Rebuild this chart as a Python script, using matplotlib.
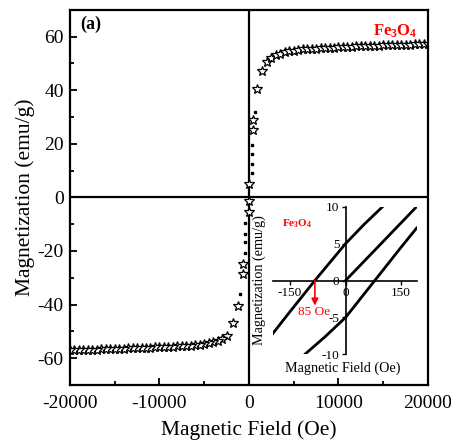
import numpy as np
import matplotlib
matplotlib.use('Agg')
import matplotlib.pyplot as plt

plt.rcParams['font.family'] = ['Liberation Serif', 'DejaVu Serif']
plt.rcParams['mathtext.fontset'] = 'custom'
plt.rcParams['mathtext.rm'] = 'Liberation Serif'
plt.rcParams['mathtext.bf'] = 'Liberation Serif:bold'
plt.rcParams['axes.unicode_minus'] = False

# main loop, star markers (Oe, emu/g)
h_sat_pos = np.arange(2000, 20001, 500)
m_sat_pos = [50.6, 52.0, 53.0, 53.6, 54.1, 54.5, 54.8, 55.0, 55.2, 55.3,
             55.4, 55.5, 55.6, 55.7, 55.8, 55.9, 56.0, 56.0, 56.1, 56.2,
             56.3, 56.3, 56.4, 56.5, 56.5, 56.6, 56.7, 56.7, 56.8, 56.8,
             56.9, 57.0, 57.0, 57.1, 57.1, 57.2, 57.2]
h_sat_neg = np.arange(-2500, -20001, -500)
m_sat_neg = [-51.8, -52.8, -53.5, -54.0, -54.4, -54.7, -55.0, -55.2, -55.3,
             -55.4, -55.5, -55.6, -55.7, -55.8, -55.9, -56.0, -56.0, -56.1,
             -56.2, -56.2, -56.3, -56.4, -56.4, -56.5, -56.5, -56.6, -56.6,
             -56.7, -56.7, -56.8, -56.8, -56.9, -56.9, -57.0, -57.0, -57.0]
h_mid = [-1790, -1200, -700, -700, 0, 0, 0, 400, 400, 860, 1420]
m_mid = [-47.0, -40.5, -28.5, -25.0, -5.5, -1.5, 5.0, 25.0, 29.0, 40.5, 47.0]

# small filled points near the switching field
h_dots = [-1030, -700, -470, -470, -470, -470, 330, 330, 330, 330, 500, 730]
m_dots = [-36.0, -29.0, -20.6, -16.8, -13.5, -9.7, 9.0, 12.5, 16.0, 19.5, 25.5, 32.0]

# inset: low-field branches
h_up = [-197, -150, -83, 0, 50, 100]
m_up = [-7.2, -4.2, 0.0, 5.0, 7.6, 10.0]
h_virgin = [0, 100, 192]
m_virgin = [0.0, 5.2, 10.0]
h_down = [-110, -55, 0, 79, 150, 192]
m_down = [-10.0, -7.6, -5.0, 0.0, 4.5, 7.1]

fig = plt.figure(figsize=(4.51, 4.45), dpi=100)
ax = fig.add_axes([0.155, 0.135, 0.794, 0.843])

star = dict(ls='none', marker='*', ms=7.5, mfc='white', mec='black', mew=0.9)
ax.plot(h_dots, m_dots, ls='none', marker='s', ms=1.7, color='black')
ax.plot(h_sat_pos, m_sat_pos, **star)
ax.plot(h_sat_neg, m_sat_neg, **star)
ax.plot(h_mid, m_mid, **star)

ax.axhline(0, color='black', lw=1.6, zorder=0)
ax.axvline(0, color='black', lw=1.6, zorder=0)

ax.set_xlim(-20000, 20000)
ax.set_ylim(-70, 70)
ax.set_xticks([-20000, -10000, 0, 10000, 20000])
ax.set_xticks([-15000, -5000, 5000, 15000], minor=True)
ax.set_yticks([-60, -40, -20, 0, 20, 40, 60])
ax.set_yticks(np.arange(-70, 71, 10), minor=True)
ax.tick_params(which='both', direction='in', top=False, right=False,
               labelsize=14, width=1.3)
ax.tick_params(axis='x', pad=7)
ax.tick_params(axis='y', pad=4.5)
ax.tick_params(which='major', length=5)
ax.tick_params(which='minor', length=3)
for s in ax.spines.values():
    s.set_linewidth(1.6)
ax.set_xlabel('Magnetic Field (Oe)', fontsize=15.5, labelpad=6)
ax.set_ylabel('Magnetization (emu/g)', fontsize=15.5, labelpad=2)

ax.text(0.03, 0.985, '(a)', transform=ax.transAxes, fontsize=13,
        fontweight='bold', va='top', ha='left')
ax.text(0.97, 0.965, r'$\mathbf{Fe_3O_4}$', transform=ax.transAxes,
        fontsize=12, color='red', va='top', ha='right')

# inset
ins = fig.add_axes([0.6047, 0.2038, 0.319, 0.3317])
ins.patch.set_alpha(0)
ins.plot(h_up, m_up, color='black', lw=2)
ins.plot(h_virgin, m_virgin, color='black', lw=2)
ins.plot(h_down, m_down, color='black', lw=2)
ins.set_xlim(-197, 192)
ins.set_ylim(-10, 10)
ins.spines['left'].set_position('zero')
ins.spines['bottom'].set_position('zero')
ins.spines['top'].set_visible(False)
ins.spines['right'].set_visible(False)
ins.spines['left'].set_linewidth(1.2)
ins.spines['bottom'].set_linewidth(1.2)
ins.set_xticks([-150, 0, 150])
ins.set_yticks([-10, -5, 0, 5, 10])
ins.tick_params(direction='out', length=3, width=1, labelsize=9.5, pad=1.5)
ins.annotate('', xy=(-83, -3.4), xytext=(-83, 0),
             arrowprops=dict(arrowstyle='-|>', color='red', lw=1.2,
                             mutation_scale=10, shrinkA=0, shrinkB=0))
ins.text(-86, -4.2, '85 Oe', color='red', fontsize=9.6, ha='center', va='center')
ins.text(-131, 7.7, r'$\mathbf{Fe_3O_4}$', color='red', fontsize=8,
         ha='center', va='center')
fig.text(0.575, 0.3705, 'Magnetization (emu/g)', rotation=90, fontsize=10.2,
         ha='center', va='center')
fig.text(0.761, 0.173, 'Magnetic Field (Oe)', fontsize=10.2,
         ha='center', va='center')

fig.savefig('out.png', dpi=100)
